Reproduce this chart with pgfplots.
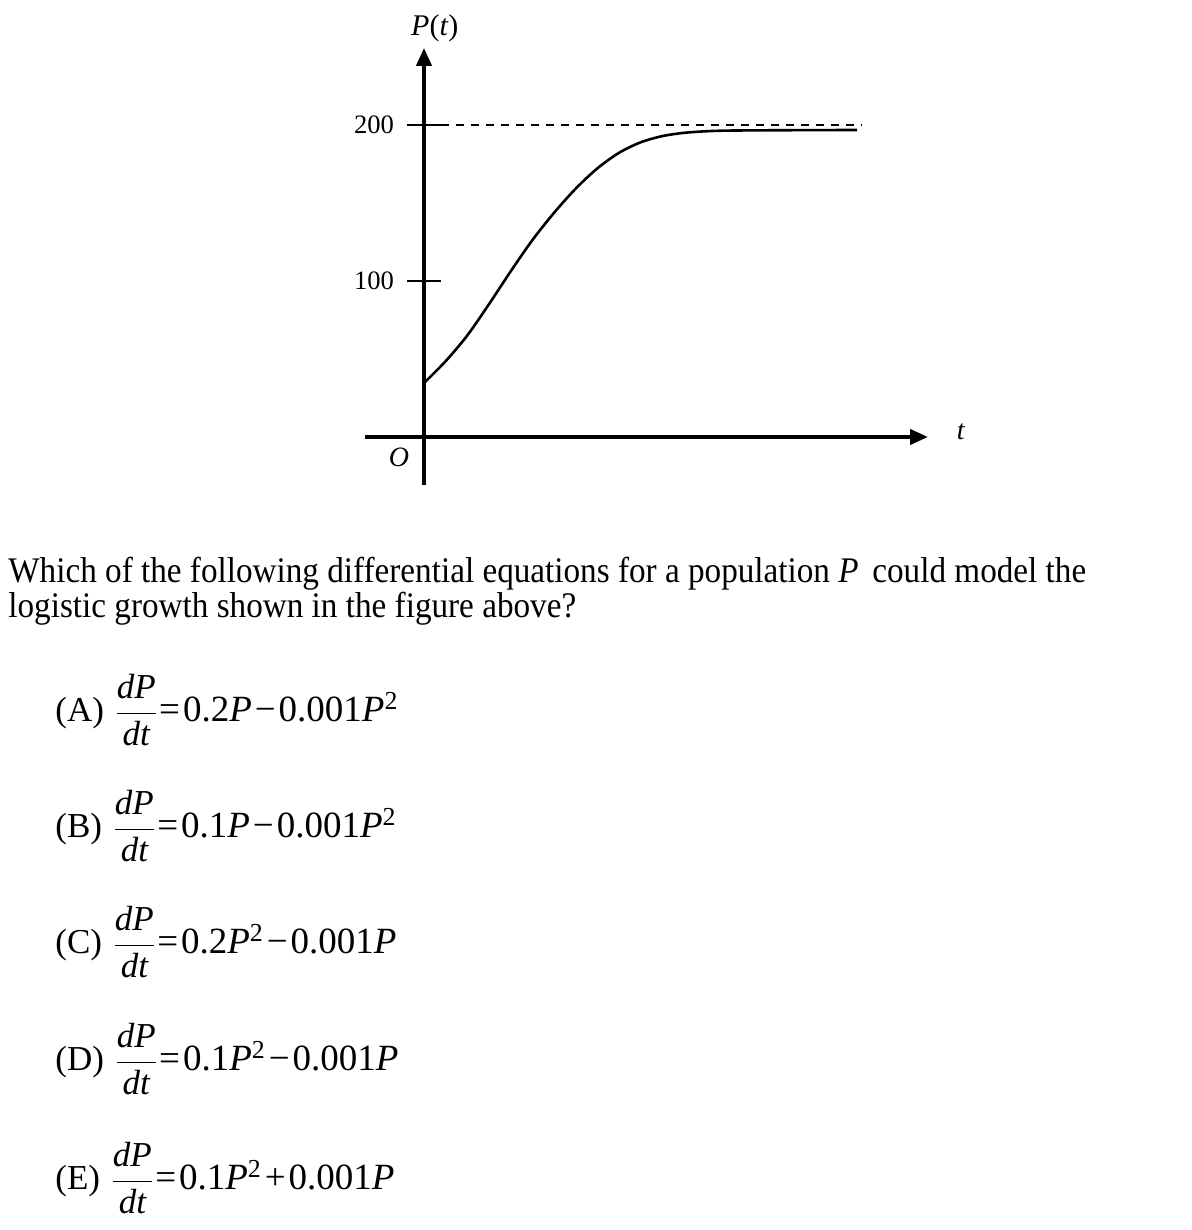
\documentclass[border=0pt]{standalone}
\usepackage{amsmath}
\usepackage{graphicx}
\usepackage{pgfplots}
\pgfplotsset{compat=1.18}
\usetikzlibrary{arrows.meta}
\usepackage{fontspec}
\setmainfont{Liberation Serif}
\newcommand\chfont{\fontsize{17.5}{19}\selectfont}
\newcommand\exfont{\fontsize{18.5}{20}\selectfont}
\newcommand\mn{\hspace{0.08em}−\hspace{0.08em}}
\newcommand\pl{\hspace{0.08em}+\hspace{0.08em}}
\newcommand\ch[2]{\chfont(#1)\hspace{0.3em}$\dfrac{\textit{dP}}{\textit{dt}}$\hspace{0.03em}{\exfont=\hspace{0.08em}#2}}
\begin{document}
\begin{tikzpicture}
\path[use as bounding box] (0,0) rectangle (596pt,615pt);
\begin{axis}[
  at={(212pt,396.5pt)}, anchor=origin,
  x=21.65pt, y=0.78pt,
  xmin=-1.36, xmax=11.64, ymin=-30.8, ymax=249.4,
  axis lines=middle,
  axis line style={line width=2pt},
  every inner x axis line/.append style={-{Triangle[length=9pt,width=7.5pt]}},
  every inner y axis line/.append style={-{Triangle[length=9pt,width=7.5pt]}},
  xtick=\empty, ytick={100,200},
  tick align=center, major tick length=17pt,
  tick style={line width=1pt, black},
  yticklabel style={font=\fontsize{13.3}{15}\selectfont, anchor=east, xshift=-3pt},
  /pgf/number format/assume math mode=true,
  clip=false,
]
\addplot[line width=1.3pt, smooth] coordinates {
(0,34.6)(0.5,48.6)(1,65.1)(1.5,85.1)(2,106.1)(2.5,126.1)(3,143.6)(3.5,159.1)
(4,172.1)(4.5,182.1)(5,188.85)(5.5,192.85)(6,194.95)(6.5,195.95)(7,196.4)(8,196.6)(9,196.7)(10,196.8)};
\addplot[line width=1.2pt, dash pattern=on 4pt off 3.5pt] coordinates {(0.4,200)(10.12,200)};
\node[font=\fontsize{15}{17}\selectfont] at (axis cs:0.25,262) {\textit{P}(\textit{t})};
\node[font=\fontsize{14}{16}\selectfont] at (axis cs:-0.58,-12.8) {\textit{O}};
\node[font=\fontsize{14}{16}\selectfont] at (axis cs:12.4,3.2) {\textit{t}};
\end{axis}
\node[anchor=base west, inner sep=0pt, font=\fontsize{18}{20}\selectfont] at (4pt,323.5pt)
  {\scalebox{0.922}[1]{Which of the following differential equations for a population \textit{P}\, could model the}};
\node[anchor=base west, inner sep=0pt, font=\fontsize{18}{20}\selectfont] at (4pt,306pt)
  {\scalebox{0.922}[1]{logistic growth shown in the figure above?}};
\node[anchor=base west, inner sep=0pt] at (27.5pt,254pt) {\ch{A}{0.2\textit{P}\mn0.001\textit{P}\textsuperscript{2}}};
\node[anchor=base west, inner sep=0pt] at (27.5pt,196pt) {\ch{B}{0.1\textit{P}\mn0.001\textit{P}\textsuperscript{2}}};
\node[anchor=base west, inner sep=0pt] at (27.5pt,138pt) {\ch{C}{0.2\textit{P}\textsuperscript{2}\mn0.001\textit{P}}};
\node[anchor=base west, inner sep=0pt] at (27.5pt,79.5pt) {\ch{D}{0.1\textit{P}\textsuperscript{2}\mn0.001\textit{P}}};
\node[anchor=base west, inner sep=0pt] at (27.5pt,20pt) {\ch{E}{0.1\textit{P}\textsuperscript{2}\pl0.001\textit{P}}};
\end{tikzpicture}
\end{document}
